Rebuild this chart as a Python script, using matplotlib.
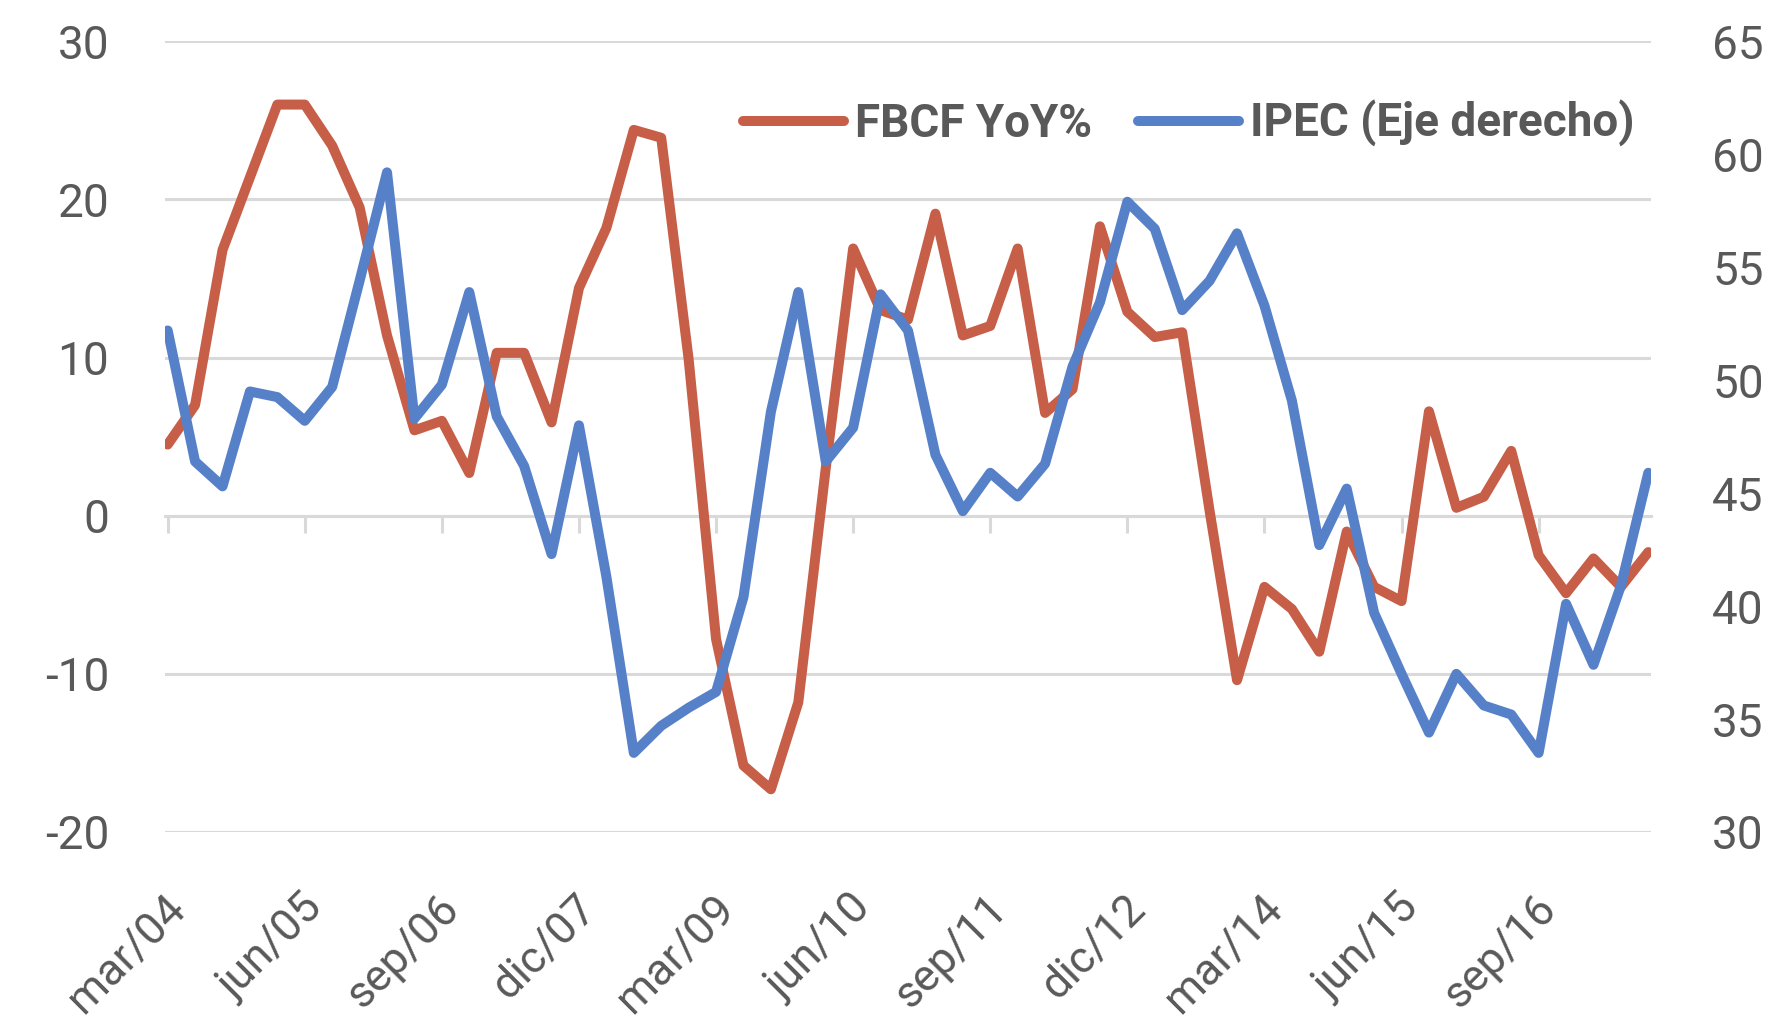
import numpy as np
import matplotlib
matplotlib.use("Agg")
import matplotlib.pyplot as plt
import matplotlib.transforms as mtransforms

# quarterly series, mar/04 .. sep/17
fbcf_yoy = [4.5, 7.0, 16.8, 21.4, 26.0, 26.0, 23.4, 19.5, 11.4, 5.4,
            6.0, 2.7, 10.3, 10.3, 5.9, 14.4, 18.2, 24.4, 23.9, 9.9,
            -7.8, -15.8, -17.3, -11.8, 3.0, 16.9, 13.0, 12.4, 19.1, 11.4,
            12.0, 16.9, 6.5, 8.0, 18.3, 12.9, 11.3, 11.6, 0.3, -10.4,
            -4.5, -5.9, -8.6, -1.0, -4.5, -5.4, 6.6, 0.5, 1.2, 4.1,
            -2.5, -4.9, -2.7, -4.5, -2.3]
ipec = [52.2, 46.4, 45.3, 49.5, 49.25, 48.2, 49.7, 54.4, 59.2, 48.3,
        49.8, 53.9, 48.4, 46.2, 42.3, 48.0, 41.3, 33.5, 34.7, 35.5,
        36.2, 40.4, 48.6, 53.9, 46.4, 47.9, 53.8, 52.2, 46.7, 44.2,
        45.9, 44.85, 46.3, 50.6, 53.45, 57.9, 56.7, 53.1, 54.4, 56.5,
        53.3, 49.1, 42.7, 45.2, 39.7, 37.0, 34.4, 37.0, 35.6, 35.2,
        33.5, 40.1, 37.4, 40.9, 45.9]
xtick_labels = ["mar/04", "jun/05", "sep/06", "dic/07", "mar/09", "jun/10",
                "sep/11", "dic/12", "mar/14", "jun/15", "sep/16"]

RED = "#C65E48"
BLUE = "#5681C9"
GRID = "#D9D9D9"
TXT = "#595959"

plt.rcParams["font.family"] = ["Roboto", "DejaVu Sans"]
plt.rcParams["axes.unicode_minus"] = False

fig = plt.figure(figsize=(17.83, 10.33), dpi=100)
ax = fig.add_axes([0.0925, 0.1946, 0.926 - 0.0925, 0.960 - 0.1946])
ax2 = ax.twinx()

x = np.arange(len(fbcf_yoy))
ax.plot(x, fbcf_yoy, color=RED, linewidth=7.2, solid_joinstyle="round",
        solid_capstyle="round", label="FBCF YoY%", zorder=3)
ax2.plot(x, ipec, color=BLUE, linewidth=7.2, solid_joinstyle="round",
         solid_capstyle="round", label="IPEC (Eje derecho)", zorder=3)

ax.set_xlim(-0.1, len(x) - 1 + 0.1)
ax.set_ylim(-20, 30)
ax2.set_ylim(30, 65)

ax.set_yticks(np.arange(-20, 31, 10))
ax2.set_yticks(np.arange(30, 66, 5))
ax.grid(axis="y", color=GRID, linewidth=2.2)
ax.set_axisbelow(True)

for a in (ax, ax2):
    for s in a.spines.values():
        s.set_visible(False)

# category axis sits at zero
ax.spines["bottom"].set_visible(True)
ax.spines["bottom"].set_position(("data", 0))
ax.spines["bottom"].set_color(GRID)
ax.spines["bottom"].set_linewidth(2.2)

ax.set_xticks(x[::5])
ax.set_xticklabels(xtick_labels, rotation=45, ha="right", va="center",
                   rotation_mode="anchor")
ax.tick_params(axis="x", length=12, width=2.2, color=GRID, labelcolor=TXT,
               labelsize=32, pad=266)
shift = mtransforms.ScaledTranslation(8 / 72, 0, fig.dpi_scale_trans)
for lbl in ax.get_xticklabels():
    lbl.set_transform(lbl.get_transform() + shift)
ax.tick_params(axis="y", length=0, labelsize=33, labelcolor=TXT, pad=40)
ax2.tick_params(axis="y", length=0, labelsize=33, labelcolor=TXT, pad=44)

h1, l1 = ax.get_legend_handles_labels()
h2, l2 = ax2.get_legend_handles_labels()
leg = fig.legend(h1 + h2, l1 + l2, loc="center right",
                 bbox_to_anchor=(0.94, 0.88), ncol=2, frameon=False,
                 prop={"weight": "bold", "size": 33},
                 handlelength=2.2, handletextpad=0.25, columnspacing=1.0)
for t in leg.get_texts():
    t.set_color(TXT)

fig.savefig("out.png", dpi=100)
